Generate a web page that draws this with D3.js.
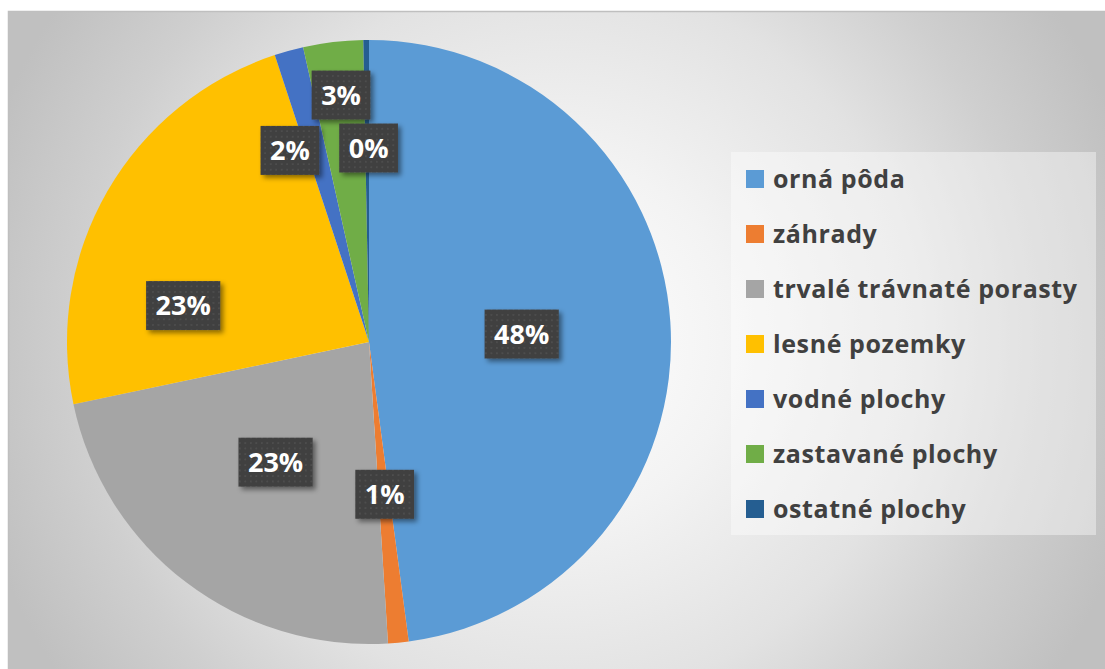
<!DOCTYPE html>
<html>
<head>
<meta charset="utf-8">
<script src="https://cdn.jsdelivr.net/npm/d3@7"></script>
<style>
  body { margin: 0; background: #ffffff; }
  svg { display: block; }
</style>
</head>
<body>
<script>
// land use categories and their share (%)
const categories = ["orná pôda", "záhrady", "trvalé trávnaté porasty", "lesné pozemky", "vodné plochy", "zastavané plochy", "ostatné plochy"];
const shares = [47.9, 1.1, 22.7, 23.25, 1.55, 3.2, 0.3];
const colors = ["#5B9BD5", "#ED7D31", "#A5A5A5", "#FFC000", "#4472C4", "#70AD47", "#255E91"];

const width = 1105;
const height = 669;
const cx = 369, cy = 342, radius = 302;

// hand placed label offsets (Excel "best fit" moved the small ones out)
const labelNudge = [[2, 2], [1, 2], [-2, 0], [-55, 39], [-39, -46], [-10, -97], [1, -43]];

const svg = d3.select("body")
    .append("svg")
    .attr("width", width)
    .attr("height", height);

const defs = svg.append("defs");

const bg = defs.append("radialGradient")
    .attr("id", "bg")
    .attr("gradientUnits", "userSpaceOnUse")
    .attr("cx", 556).attr("cy", 340).attr("r", 600);
[[0, "#ffffff"], [0.3, "#f3f3f3"], [0.6, "#e2e2e2"], [0.8, "#cfcfcf"], [1, "#c0c0c0"]].forEach(s => {
    bg.append("stop").attr("offset", s[0]).attr("stop-color", s[1]);
});

const dots = defs.append("pattern")
    .attr("id", "dots")
    .attr("patternUnits", "userSpaceOnUse")
    .attr("width", 5.5).attr("height", 5.5);
dots.append("rect").attr("width", 5.5).attr("height", 5.5).attr("fill", "#404040");
dots.append("circle").attr("cx", 2.75).attr("cy", 2.75).attr("r", 0.8).attr("fill", "#595959");

const shadow = defs.append("filter")
    .attr("id", "shadow")
    .attr("x", "-20%").attr("y", "-20%")
    .attr("width", "150%").attr("height", "150%");
shadow.append("feDropShadow")
    .attr("dx", 3).attr("dy", 3)
    .attr("stdDeviation", 2.5)
    .attr("flood-color", "#000")
    .attr("flood-opacity", 0.45);

// chart area
svg.append("rect")
    .attr("x", 8.5).attr("y", 11.5)
    .attr("width", width).attr("height", height)
    .attr("fill", "url(#bg)")
    .attr("stroke", "#bfbfbf")
    .attr("stroke-width", 1.5);

const data = categories.map((c, i) => ({ name: c, value: shares[i], color: colors[i], nudge: labelNudge[i] }));
const total = d3.sum(shares);

const pie = d3.pie()
    .value(d => d.value)
    .sort(null);

const arc = d3.arc()
    .innerRadius(0)
    .outerRadius(radius);

const labelArc = d3.arc()
    .innerRadius(radius * 0.5)
    .outerRadius(radius * 0.5);

const g = svg.append("g")
    .attr("transform", `translate(${cx},${cy})`);

const arcs = pie(data);

g.selectAll("path")
    .data(arcs)
    .join("path")
    .attr("d", arc)
    .attr("fill", d => d.data.color);

const fmt = d3.format(".0%");

const labels = g.selectAll("g.label")
    .data(arcs)
    .join("g")
    .attr("class", "label")
    .attr("transform", d => {
        const c = labelArc.centroid(d);
        return `translate(${c[0] + d.data.nudge[0]},${c[1] + d.data.nudge[1]})`;
    });

labels.each(function (d) {
    const lab = d3.select(this);
    const txt = lab.append("text")
        .attr("text-anchor", "middle")
        .attr("dy", "0.36em")
        .style("font-family", "'Open Sans', sans-serif")
        .style("font-size", "27px")
        .style("font-weight", "bold")
        .style("fill", "#ffffff")
        .text(fmt(d.data.value / total));
    const w = txt.node().getComputedTextLength() + 19;
    const h = 49;
    lab.insert("rect", "text")
        .attr("x", -w / 2).attr("y", -h / 2)
        .attr("width", w).attr("height", h)
        .attr("fill", "url(#dots)")
        .attr("filter", "url(#shadow)");
});

// legend
const legendX = 731, legendY = 152;
svg.append("rect")
    .attr("x", legendX).attr("y", legendY)
    .attr("width", 365).attr("height", 383)
    .attr("fill", "#ffffff")
    .attr("opacity", 0.4);

const legend = svg.append("g")
    .selectAll("g")
    .data(data)
    .join("g")
    .attr("transform", (d, i) => `translate(${legendX + 15},${legendY + 27 + i * 55})`);

legend.append("rect")
    .attr("x", 0).attr("y", -9)
    .attr("width", 18).attr("height", 18)
    .attr("fill", d => d.color);

legend.append("text")
    .attr("x", 27)
    .attr("dy", "0.36em")
    .style("font-family", "'Open Sans', sans-serif")
    .style("font-size", "25px")
    .style("font-weight", "bold")
    .style("letter-spacing", "0.6px")
    .style("fill", "#404040")
    .text(d => d.name);
</script>
</body>
</html>
